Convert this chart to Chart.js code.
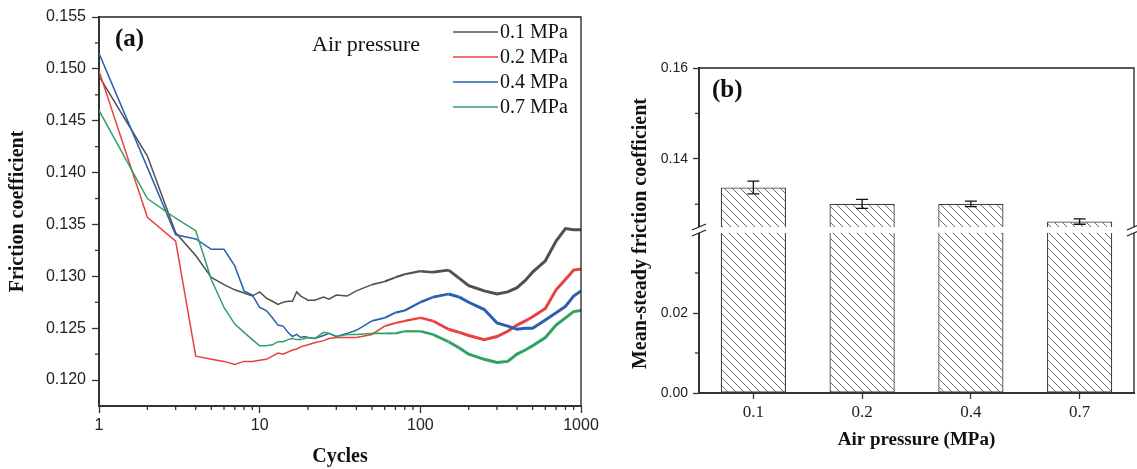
<!DOCTYPE html>
<html><head><meta charset="utf-8">
<script src="https://cdn.jsdelivr.net/npm/chart.js@4.4.0/dist/chart.umd.min.js"></script>
<style>
html,body{margin:0;padding:0;background:#fff;}
#wrap{position:relative;width:1137px;height:469px;overflow:hidden;background:#fff;}
#ca{position:absolute;left:0;top:0;}
#cb{position:absolute;left:600px;top:0;}
</style></head><body>
<div id="wrap"><canvas id="ca" width="600" height="469"></canvas><canvas id="cb" width="537" height="469"></canvas></div>
<script>
// ---------- Panel (a) data ----------
const cycles = [1,2,3,4,5,6,7,8,9,10,11,12,13,14,15,16,17,18,19,20,22,25,27,30,35,40,50,60,70,80,100,120,150,175,200,250,300,350,400,450,500,600,700,800,900,1000];
const mu01 = [0.1493,0.1416,0.1342,0.1320,0.1299,0.1292,0.1287,0.1284,0.1281,0.1285,0.1279,0.1276,0.1273,0.1275,0.1276,0.1276,0.1285,0.1281,0.1279,0.1277,0.1277,0.1280,0.1278,0.1282,0.1281,0.1286,0.1292,0.1295,0.1299,0.1302,0.1305,0.1304,0.1306,0.1298,0.1291,0.1286,0.1283,0.1285,0.1289,0.1296,0.1304,0.1315,0.1334,0.1346,0.1345,0.1345];
const mu02 = [0.1498,0.1357,0.1334,0.1223,0.1220,0.1218,0.1215,0.1218,0.1218,0.1219,0.1220,0.1223,0.1226,0.1225,0.1227,0.1229,0.1230,0.1232,0.1233,0.1234,0.1236,0.1238,0.1240,0.1241,0.1241,0.1241,0.1244,0.1252,0.1255,0.1257,0.1260,0.1257,0.1249,0.1246,0.1243,0.1239,0.1242,0.1247,0.1253,0.1257,0.1261,0.1269,0.1287,0.1297,0.1306,0.1307];
const mu04 = [0.1515,0.1405,0.1340,0.1336,0.1326,0.1326,0.1310,0.1286,0.1282,0.1270,0.1267,0.1260,0.1253,0.1252,0.1246,0.1242,0.1244,0.1241,0.1242,0.1241,0.1240,0.1243,0.1245,0.1242,0.1245,0.1248,0.1257,0.1260,0.1265,0.1267,0.1275,0.1280,0.1283,0.1280,0.1275,0.1268,0.1255,0.1252,0.1249,0.1250,0.1250,0.1258,0.1265,0.1271,0.1281,0.1286];
const mu07 = [0.1460,0.1375,0.1356,0.1344,0.1297,0.1270,0.1254,0.1246,0.1239,0.1233,0.1233,0.1234,0.1237,0.1237,0.1239,0.1240,0.1239,0.1239,0.1240,0.1241,0.1240,0.1246,0.1245,0.1242,0.1244,0.1244,0.1245,0.1245,0.1245,0.1247,0.1247,0.1244,0.1237,0.1231,0.1225,0.1220,0.1217,0.1218,0.1225,0.1229,0.1233,0.1241,0.1253,0.1260,0.1266,0.1267];
const seriesLabels = ['0.1 MPa','0.2 MPa','0.4 MPa','0.7 MPa'];
const aXTicks = [1,10,100,1000];
const aXMinor = [2,3,4,5,6,7,8,9,20,30,40,50,60,70,80,90,200,300,400,500,600,700,800,900];
const aYTicks = [0.120,0.125,0.130,0.135,0.140,0.145,0.150,0.155];
const aYMinor = [0.1225,0.1275,0.1325,0.1375,0.1425,0.1475,0.1525];

// ---------- Panel (b) data ----------
const bCategories = ['0.1','0.2','0.4','0.7'];
const bMeans = [0.1337,0.1301,0.1301,0.1262];
const bErrors = [0.0014,0.0010,0.0006,0.0006];
const bLowTicks = [0.00,0.02];
const bLowMinor = [0.01,0.03];
const bHighTicks = [0.14,0.16];
const bHighMinor = [0.13,0.15];
const bBreakLow = 0.040;
const bBreakHigh = 0.125;

Chart.defaults.font.family = '"Liberation Sans", Arial, sans-serif';
Chart.defaults.color = '#222';

const SERIF = '"Liberation Serif", "Times New Roman", serif';
const seriesColors = ['#505050','#e8413f','#2a5fb2','#2fa163'];

function bandWidth(x){
  const t = Math.min(1, Math.max(0, (Math.log10(x) - 1.6) / 0.6));
  return 1.5 + 1.5 * t;
}
function noPad(s){ s.paddingLeft = 0; s.paddingRight = 0; s.paddingTop = 0; s.paddingBottom = 0; }

const aPlugin = {
  id: 'aDecor',
  afterDraw(chart){
    const {ctx, chartArea: ca, scales} = chart;
    ctx.save();
    ctx.strokeStyle = '#222'; ctx.lineWidth = 1.3;
    ctx.beginPath(); ctx.moveTo(ca.left, ca.top); ctx.lineTo(ca.right, ca.top); ctx.lineTo(ca.right, ca.bottom); ctx.stroke();
    ctx.strokeStyle = '#333'; ctx.lineWidth = 1.3;
    aXMinor.forEach(v => { const x = scales.x.getPixelForValue(v); ctx.beginPath(); ctx.moveTo(x, ca.bottom); ctx.lineTo(x, ca.bottom + 4); ctx.stroke(); });
    aYMinor.forEach(v => { const y = scales.y.getPixelForValue(v); ctx.beginPath(); ctx.moveTo(ca.left, y); ctx.lineTo(ca.left - 4, y); ctx.stroke(); });
    ctx.fillStyle = '#111'; ctx.textBaseline = 'middle'; ctx.textAlign = 'left';
    ctx.font = 'bold 25px ' + SERIF; ctx.fillText('(a)', ca.left + 16, ca.top + 23);
    ctx.font = '22px ' + SERIF; ctx.fillText('Air pressure', 312, 45);
    ctx.font = '20px ' + SERIF;
    chart.data.datasets.forEach((ds, i) => {
      const y = 32 + 25 * i;
      ctx.strokeStyle = ds.borderColor; ctx.lineWidth = 1.5;
      ctx.beginPath(); ctx.moveTo(453, y); ctx.lineTo(498, y); ctx.stroke();
      ctx.fillStyle = '#111'; ctx.fillText(ds.label, 500, y + 1);
    });
    ctx.restore();
  }
};

new Chart(document.getElementById('ca'), {
  type: 'line',
  data: {
    datasets: [mu01, mu02, mu04, mu07].map((vals, i) => ({
      label: seriesLabels[i],
      data: cycles.map((c, j) => ({x: c, y: vals[j]})),
      borderColor: seriesColors[i],
      borderWidth: 1.5,
      pointRadius: 0,
      tension: 0,
      fill: false,
      order: 3 - i,
      segment: { borderWidth: ctx => bandWidth(ctx.p0.parsed.x) }
    }))
  },
  options: {
    responsive: false, animation: false, devicePixelRatio: 1,
    layout: { padding: { left: 0, right: 19, top: 17, bottom: 0 } },
    plugins: { legend: { display: false }, tooltip: { enabled: false } },
    scales: {
      x: {
        type: 'logarithmic', min: 1, max: 1000,
        afterBuildTicks: s => { s.ticks = aXTicks.map(v => ({value: v})); },
        ticks: { callback: v => String(v), font: { size: 16 }, color: '#222', padding: 3, maxRotation: 0, autoSkip: false },
        grid: { drawOnChartArea: false, color: '#333', tickLength: 7, tickWidth: 1.3 },
        border: { color: '#333', width: 2 },
        title: { display: true, text: 'Cycles', font: { family: SERIF, size: 20, weight: 'bold' }, color: '#111', padding: { top: 0, bottom: 0 } },
        afterFit: s => { s.height = 63; noPad(s); }
      },
      y: {
        type: 'linear', min: 0.1175, max: 0.155,
        afterBuildTicks: s => { s.ticks = aYTicks.map(v => ({value: v})); },
        ticks: { callback: v => v.toFixed(3), font: { size: 16 }, color: '#222', padding: 6 },
        grid: { drawOnChartArea: false, color: '#333', tickLength: 7, tickWidth: 1.3 },
        border: { color: '#333', width: 2 },
        title: { display: true, text: 'Friction coefficient', font: { family: SERIF, size: 20, weight: 'bold' }, color: '#111', padding: { top: 6, bottom: 0 } },
        afterFit: s => { s.width = 99; noPad(s); }
      }
    }
  },
  plugins: [aPlugin]
});

// ---------- Panel (b) ----------
function makeHatch(){
  const s = 8, c = document.createElement('canvas'); c.width = s; c.height = s;
  const g = c.getContext('2d');
  g.fillStyle = '#fff'; g.fillRect(0, 0, s, s);
  g.strokeStyle = '#6a6a6a'; g.lineWidth = 1;
  g.beginPath();
  g.moveTo(-1, -1); g.lineTo(s + 1, s + 1);
  g.moveTo(-1, s - 1); g.lineTo(1, s + 1);
  g.moveTo(s - 1, -1); g.lineTo(s + 1, 1);
  g.stroke();
  return g.createPattern(c, 'repeat');
}
const hatch = makeHatch();

const bPlugin = {
  id: 'bDecor',
  afterDraw(chart){
    const {ctx, chartArea: ca, scales} = chart;
    const hi = scales.yHigh, lo = scales.yLow, x = scales.x;
    ctx.save();
    // frame
    ctx.strokeStyle = '#222'; ctx.lineWidth = 1.3;
    ctx.beginPath(); ctx.moveTo(ca.left, ca.top); ctx.lineTo(ca.right, ca.top); ctx.lineTo(ca.right, ca.bottom); ctx.stroke();
    // minor ticks
    ctx.strokeStyle = '#333'; ctx.lineWidth = 1.3;
    bHighMinor.forEach(v => { const y = hi.getPixelForValue(v); ctx.beginPath(); ctx.moveTo(ca.left, y); ctx.lineTo(ca.left - 4, y); ctx.stroke(); });
    bLowMinor.forEach(v => { const y = lo.getPixelForValue(v); ctx.beginPath(); ctx.moveTo(ca.left, y); ctx.lineTo(ca.left - 4, y); ctx.stroke(); });
    // error bars
    ctx.strokeStyle = '#111'; ctx.lineWidth = 1.3;
    bMeans.forEach((m, i) => {
      const cx = x.getPixelForValue(i);
      const y1 = hi.getPixelForValue(m + bErrors[i]), y2 = hi.getPixelForValue(m - bErrors[i]);
      ctx.beginPath();
      ctx.moveTo(cx, y1); ctx.lineTo(cx, y2);
      ctx.moveTo(cx - 6, y1); ctx.lineTo(cx + 6, y1);
      ctx.moveTo(cx - 6, y2); ctx.lineTo(cx + 6, y2);
      ctx.stroke();
    });
    // axis break
    const gTop = hi.getPixelForValue(bBreakHigh), gBot = lo.getPixelForValue(bBreakLow);
    [ca.left, ca.right].forEach(bx => {
      ctx.fillStyle = '#fff'; ctx.fillRect(bx - 3, gTop, 6, gBot - gTop);
      ctx.strokeStyle = '#222'; ctx.lineWidth = 1.2;
      ctx.beginPath();
      ctx.moveTo(bx - 7, gTop + 3); ctx.lineTo(bx + 7, gTop - 3);
      ctx.moveTo(bx - 7, gBot + 3); ctx.lineTo(bx + 7, gBot - 3);
      ctx.stroke();
    });
    // y title
    ctx.fillStyle = '#111'; ctx.font = 'bold 20px ' + SERIF; ctx.textAlign = 'center'; ctx.textBaseline = 'middle';
    ctx.translate(41, (ca.top + ca.bottom) / 2 + 3); ctx.rotate(-Math.PI / 2);
    ctx.fillText('Mean-steady friction coefficient', 0, 0);
    ctx.restore();
    ctx.save();
    ctx.fillStyle = '#111'; ctx.font = 'bold 25px ' + SERIF; ctx.textAlign = 'left'; ctx.textBaseline = 'middle';
    ctx.fillText('(b)', ca.left + 13, ca.top + 23);
    ctx.restore();
  }
};

const barCommon = { backgroundColor: hatch, borderColor: '#444', borderWidth: 1.3, grouped: false, barPercentage: 0.6, categoryPercentage: 1 };
new Chart(document.getElementById('cb'), {
  type: 'bar',
  data: {
    labels: bCategories,
    datasets: [
      Object.assign({ label: 'low', data: bMeans.map(v => Math.min(v, bBreakLow)), yAxisID: 'yLow', borderSkipped: 'top' }, barCommon),
      Object.assign({ label: 'high', data: bMeans, yAxisID: 'yHigh', base: bBreakHigh, borderSkipped: 'bottom' }, barCommon)
    ]
  },
  options: {
    responsive: false, animation: false, devicePixelRatio: 1,
    layout: { padding: { left: 0, right: 3, top: 68, bottom: 0 } },
    plugins: { legend: { display: false }, tooltip: { enabled: false } },
    scales: {
      x: {
        grid: { drawOnChartArea: false, offset: false, color: '#333', tickLength: 6, tickWidth: 1.3 },
        border: { color: '#333', width: 2 },
        ticks: { font: { family: SERIF, size: 17 }, color: '#222', padding: 3 },
        title: { display: true, text: 'Air pressure (MPa)', font: { family: SERIF, size: 19, weight: 'bold' }, color: '#111', padding: { top: 0, bottom: 18 } },
        afterFit: s => { s.height = 76; noPad(s); }
      },
      yLow: {
        type: 'linear', position: 'left', stack: 'b', stackWeight: 166, min: 0, max: 0.0415,
        afterBuildTicks: s => { s.ticks = bLowTicks.map(v => ({value: v})); },
        ticks: { callback: v => v.toFixed(2), font: { size: 14 }, color: '#222', padding: 5 },
        grid: { drawOnChartArea: false, color: '#333', tickLength: 6, tickWidth: 1.3 },
        border: { color: '#333', width: 2 },
        afterFit: s => { s.width = 99; noPad(s); }
      },
      yHigh: {
        type: 'linear', position: 'left', stack: 'b', stackWeight: 159, min: bBreakHigh, max: 0.16,
        afterBuildTicks: s => { s.ticks = bHighTicks.map(v => ({value: v})); },
        ticks: { callback: v => v.toFixed(2), font: { size: 14 }, color: '#222', padding: 5 },
        grid: { drawOnChartArea: false, color: '#333', tickLength: 6, tickWidth: 1.3 },
        border: { color: '#333', width: 2 },
        afterFit: s => { s.width = 99; noPad(s); }
      }
    }
  },
  plugins: [bPlugin]
});
</script>
</body></html>
